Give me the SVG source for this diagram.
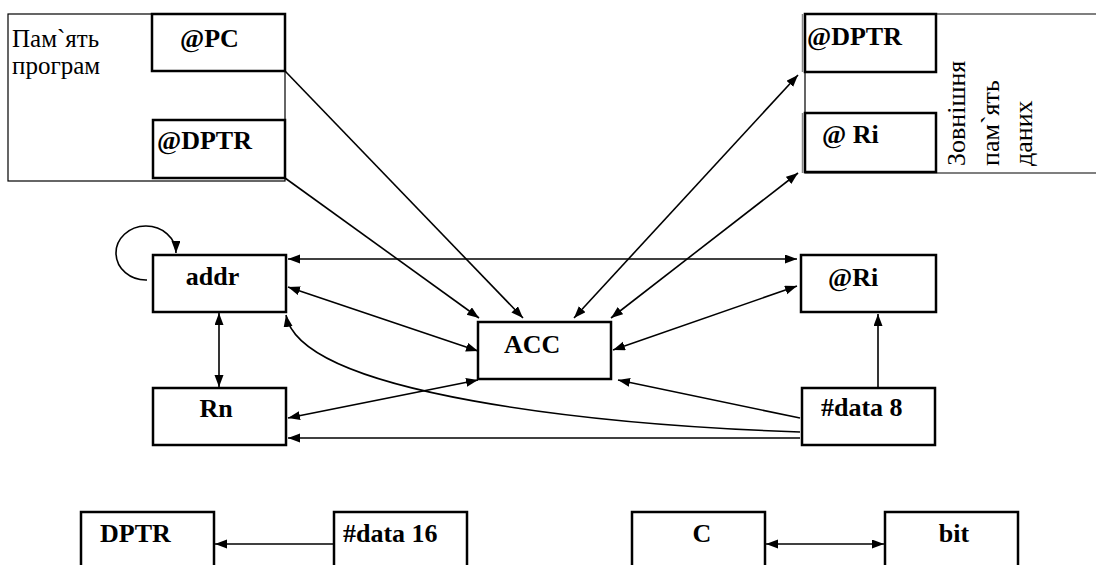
<svg xmlns="http://www.w3.org/2000/svg" width="1096" height="565" viewBox="0 0 1096 565">
<style>
.box{fill:#fff;stroke:#000;stroke-width:2.5}
.thin{fill:none;stroke:#000;stroke-width:1.2}
text{font-family:'Liberation Serif','Times New Roman',serif;fill:#000}
.lbl{font-weight:bold;font-size:26px}
.reg{font-size:25px}
.vert{font-size:26px}
.c{fill:none;stroke:#000;stroke-width:1.6}
.one{marker-end:url(#ah)}
.two{marker-start:url(#ah);marker-end:url(#ah)}
.edge{stroke:#888;stroke-width:1.5}
</style>
<defs>
<marker id="ah" markerUnits="userSpaceOnUse" markerWidth="14" markerHeight="10" refX="12" refY="4.5" orient="auto-start-reverse">
<path d="M0,0 L12,4.5 L0,9 z" fill="#000"/>
</marker>
</defs>
<rect width="1096" height="565" fill="#fff"/>

<g id="program-memory">
<rect class="thin" x="8" y="14" width="277" height="167"/>
<text class="reg" x="12" y="47">Пам`ять</text>
<text class="reg" x="12" y="74">програм</text>
</g>
<g id="atPC">
<rect class="box" x="152" y="14" width="133" height="57"/>
<text class="lbl" x="180" y="47">@PC</text>
</g>
<g id="atDPTR-prog">
<rect class="box" x="153" y="120" width="132" height="58"/>
<text class="lbl" x="157" y="149">@DPTR</text>
</g>

<g id="ext-memory">
<path class="thin" d="M1100,14 H805 V173 H1100"/>
<text class="vert" transform="translate(965,166) rotate(-90)">Зовнішня</text>
<text class="vert" transform="translate(999,166) rotate(-90)">пам`ять</text>
<text class="vert" transform="translate(1032,166) rotate(-90)">даних</text>
</g>
<g id="atDPTR-ext">
<line class="edge" x1="802.5" y1="14" x2="802.5" y2="72"/>
<rect class="box" x="805" y="14" width="131" height="58"/>
<text class="lbl" x="807" y="45">@DPTR</text>
</g>
<g id="atRi-ext">
<line class="edge" x1="802.5" y1="113" x2="802.5" y2="173"/>
<rect class="box" x="805" y="113" width="131" height="59"/>
<text class="lbl" x="822" y="143">@ Ri</text>
</g>

<g id="addr">
<rect class="box" x="153" y="255" width="133" height="57"/>
<text class="lbl" x="212.5" y="285" text-anchor="middle">addr</text>
</g>
<g id="Rn">
<rect class="box" x="153" y="388" width="133" height="57"/>
<text class="lbl" x="216" y="417" text-anchor="middle">Rn</text>
</g>
<g id="ACC">
<rect class="box" x="478" y="322" width="133" height="57"/>
<text class="lbl" x="504" y="353">ACC</text>
</g>
<g id="atRi">
<rect class="box" x="801" y="255" width="135" height="57"/>
<text class="lbl" x="828" y="286">@Ri</text>
</g>
<g id="data8">
<rect class="box" x="802" y="388" width="133" height="57"/>
<text class="lbl" x="821" y="416">#data 8</text>
</g>

<g id="DPTR">
<rect class="box" x="81" y="512" width="133" height="60"/>
<text class="lbl" x="100" y="542">DPTR</text>
</g>
<g id="data16">
<rect class="box" x="334" y="512" width="133" height="60"/>
<text class="lbl" x="343" y="542">#data 16</text>
</g>
<g id="C">
<rect class="box" x="632" y="512" width="133" height="60"/>
<text class="lbl" x="702" y="542" text-anchor="middle">C</text>
</g>
<g id="bit">
<rect class="box" x="885" y="512" width="133" height="60"/>
<text class="lbl" x="954" y="542" text-anchor="middle">bit</text>
</g>

<g id="connectors">
<line class="c one" x1="285" y1="71" x2="523" y2="318"/>
<line class="c one" x1="285" y1="178" x2="479" y2="318"/>
<line class="c two" x1="574" y1="318" x2="798" y2="75"/>
<line class="c two" x1="611" y1="318" x2="798" y2="173"/>
<line class="c two" x1="288" y1="259" x2="797" y2="259"/>
<line class="c two" x1="288" y1="287" x2="478" y2="351"/>
<line class="c two" x1="219" y1="313" x2="219" y2="387"/>
<line class="c two" x1="288" y1="418" x2="478" y2="380"/>
<line class="c two" x1="613" y1="350" x2="797" y2="286"/>
<line class="c one" x1="878" y1="388" x2="878" y2="314"/>
<line class="c one" x1="800" y1="418" x2="618" y2="380"/>
<path class="c one" d="M800,432 C600,425 300,395 286,315"/>
<line class="c one" x1="800" y1="438" x2="288" y2="438"/>
<path class="c one" d="M147,280 A30 27 0 1 1 176,253"/>
<line class="c one" x1="334" y1="544" x2="215" y2="544"/>
<line class="c two" x1="766" y1="544" x2="884" y2="544"/>
</g>
</svg>
